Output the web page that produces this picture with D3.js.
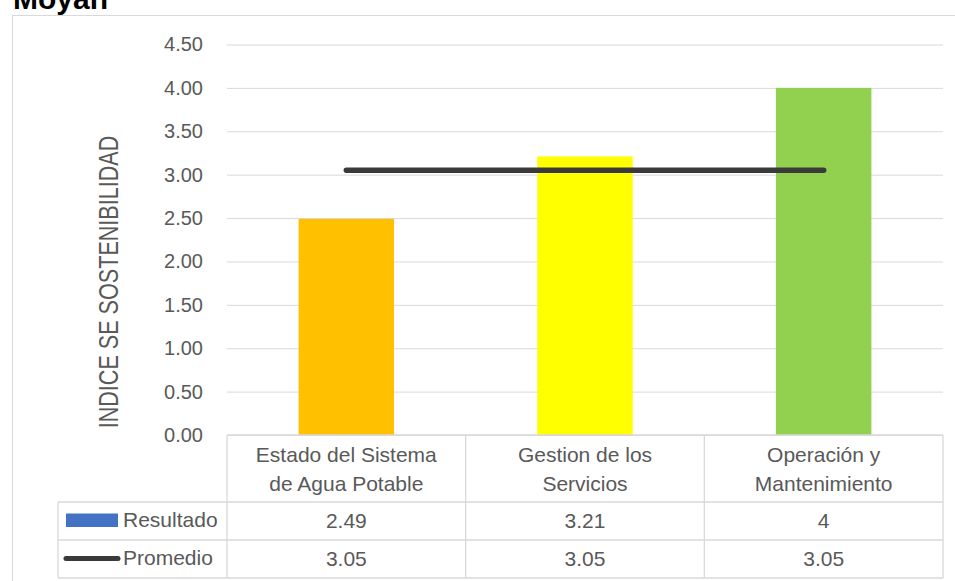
<!DOCTYPE html>
<html><head><meta charset="utf-8">
<script src="https://cdn.jsdelivr.net/npm/d3@7"></script>
<style>
html,body{margin:0;padding:0;background:#fff;overflow:hidden}
svg{display:block}
text{font-family:"Liberation Sans",Arial,sans-serif;fill:#595959}
</style></head>
<body><svg id="c" width="955" height="581"></svg>
<script>
const title = "Moyan";
const categories = [["Estado del Sistema","de Agua Potable"],["Gestion de los","Servicios"],["Operación y","Mantenimiento"]];
const resultado = [2.49, 3.21, 4];
const promedio = [3.05, 3.05, 3.05];
const resultadoLabels = ["2.49","3.21","4"];
const promedioLabels = ["3.05","3.05","3.05"];
const barColors = ["#FFC000","#FFFF00","#92D050"];
const yTicks = [0,0.5,1,1.5,2,2.5,3,3.5,4,4.5];
const yTitle = "INDICE SE SOSTENIBILIDAD";
const seriesNames = ["Resultado","Promedio"];

const svg = d3.select("#c");
const grid = "#d9d9d9";

// title (partially hidden by frame, as in the reference)
svg.append("text").attr("x",13).attr("y",9).attr("font-size",30).attr("font-weight","bold")
  .style("fill","#000").text(title);
// frame
svg.append("rect").attr("x",12.5).attr("y",15.5).attr("width",960).attr("height",600)
  .attr("fill","#fff").attr("stroke",grid);

const x0 = 227, x1 = 943;
const ids = d3.range(categories.length);
const x = d3.scaleBand().domain(ids).range([x0,x1]).paddingInner(0.6).paddingOuter(0.3);
const step = (x1-x0)/categories.length;
const y = d3.scaleLinear().domain([0,4.5]).range([435,44.5]);

// gridlines + tick labels
const yAxis = d3.axisLeft(y).tickValues(yTicks).tickFormat(d3.format(".2f")).tickSize(-(x1-x0)).tickPadding(24);
const gy = svg.append("g").attr("transform",`translate(${x0},0)`).call(yAxis);
gy.select(".domain").remove();
gy.selectAll(".tick line").attr("stroke",grid).attr("stroke-width",1);
gy.selectAll(".tick text").attr("font-size",20).style("fill","#595959")
  .attr("font-family","Liberation Sans, Arial, sans-serif");

// y title (condensed)
svg.append("text").attr("transform","translate(118,282) rotate(-90) scale(0.8,1)").attr("text-anchor","middle")
  .attr("font-size",27)
  .text(yTitle);

// bars
svg.append("g").selectAll("rect").data(resultado).join("rect")
  .attr("x",(d,i)=>x(i)).attr("width",x.bandwidth())
  .attr("y",d=>y(d)).attr("height",d=>y(0)-y(d)).attr("fill",(d,i)=>barColors[i]);

// average line
const line = d3.line().x((d,i)=>x(i)+x.bandwidth()/2).y(d=>y(d));
svg.append("path").datum(promedio).attr("d",line).attr("fill","none")
  .attr("stroke","#3a3a3a").attr("stroke-width",5.5).attr("stroke-linecap","round");

// data table
const tl = 58, rTop = 435, r1 = 502, r2 = 540, r3 = 578;
const tg = svg.append("g").attr("stroke",grid).attr("stroke-width",1.3).attr("fill","none");
tg.append("line").attr("x1",x0).attr("x2",x1).attr("y1",rTop).attr("y2",rTop);
[r1,r2,r3].forEach(yy=>tg.append("line").attr("x1",tl).attr("x2",x1).attr("y1",yy).attr("y2",yy));
tg.append("line").attr("x1",tl).attr("x2",tl).attr("y1",r1).attr("y2",r3);
ids.concat([categories.length]).forEach(i=>{
  const xx = x0 + i*step;
  tg.append("line").attr("x1",xx).attr("x2",xx).attr("y1",rTop).attr("y2",r3);
});

const fs = 21;
categories.forEach((c,i)=>{
  const cx = x(i)+x.bandwidth()/2;
  c.forEach((ln,k)=>svg.append("text").attr("x",cx).attr("y",462+k*28.5)
    .attr("text-anchor","middle").attr("font-size",fs).text(ln));
  svg.append("text").attr("x",cx).attr("y",528).attr("text-anchor","middle").attr("font-size",fs).text(resultadoLabels[i]);
  svg.append("text").attr("x",cx).attr("y",566).attr("text-anchor","middle").attr("font-size",fs).text(promedioLabels[i]);
});

// legend keys
svg.append("rect").attr("x",66).attr("y",513.5).attr("width",52).attr("height",13.5).attr("fill","#4472C4");
svg.append("line").attr("x1",66).attr("x2",118).attr("y1",558.5).attr("y2",558.5)
  .attr("stroke","#3a3a3a").attr("stroke-width",5).attr("stroke-linecap","round");
svg.append("text").attr("x",123).attr("y",527).attr("font-size",fs).text(seriesNames[0]);
svg.append("text").attr("x",123).attr("y",565).attr("font-size",fs).text(seriesNames[1]);
</script></body></html>
